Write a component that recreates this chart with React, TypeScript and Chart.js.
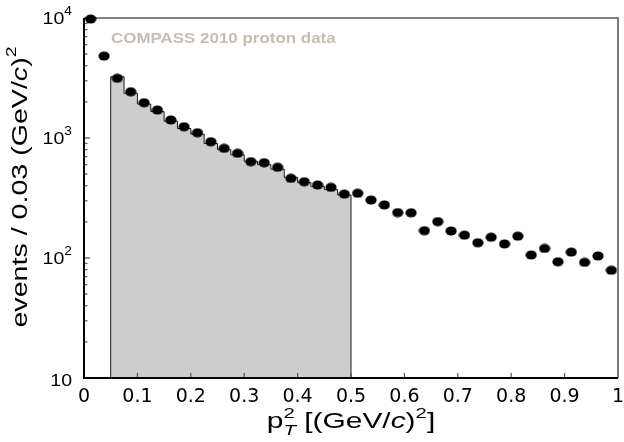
import React, { useEffect, useRef } from 'react';
import { Chart, registerables } from 'chart.js';

Chart.register(...registerables);

// p_T^2 bin centres (bin width 0.025)
const pt2Centers = [
  0.0125, 0.0375, 0.0625, 0.0875, 0.1125, 0.1375, 0.1625, 0.1875, 0.2125, 0.2375,
  0.2625, 0.2875, 0.3125, 0.3375, 0.3625, 0.3875, 0.4125, 0.4375, 0.4625, 0.4875,
  0.5125, 0.5375, 0.5625, 0.5875, 0.6125, 0.6375, 0.6625, 0.6875, 0.7125, 0.7375,
  0.7625, 0.7875, 0.8125, 0.8375, 0.8625, 0.8875, 0.9125, 0.9375, 0.9625, 0.9875,
];
// COMPASS 2010 proton data: events per bin
const dataCounts = [
  9800, 4820, 3145, 2430, 1968, 1711, 1413, 1241, 1107, 931,
  820, 746, 635, 622, 570, 461, 432, 406, 388, 341,
  346, 304, 277, 239, 238, 169, 201, 168, 155, 134,
  149, 131, 152, 106, 120, 93, 112, 92, 104, 79,
];
// shaded histogram (0.05 .. 0.5)
const histEdges = [
  0.05, 0.075, 0.1, 0.125, 0.15, 0.175, 0.2, 0.225, 0.25, 0.275,
  0.3, 0.325, 0.35, 0.375, 0.4, 0.425, 0.45, 0.475, 0.5,
];
const histCounts = [
  3240, 2360, 1920, 1660, 1380, 1200, 1080, 900, 800,
  725, 640, 600, 550, 470, 425, 395, 372, 335,
];
const xTickValues = [0, 0.1, 0.2, 0.3, 0.4, 0.5, 0.6, 0.7, 0.8, 0.9, 1];
const yDecades = [10, 100, 1000, 10000];
const yExponents = ['', '2', '3', '4'];
const yMinorFactors = [2, 3, 4, 5, 6, 7, 8, 9];

const SANS = '"Liberation Sans", Arial, Helvetica, sans-serif';

type Seg = { t: string; size: number; italic?: boolean; bold?: boolean; dy?: number; noAdvance?: boolean };

function fontOf(s: Seg) {
  return `${s.italic ? 'italic ' : ''}${s.bold ? 'bold ' : ''}${s.size}px ${SANS}`;
}

function drawSegs(
  ctx: CanvasRenderingContext2D,
  segs: Seg[],
  x: number,
  y: number,
  opts: { align: 'left' | 'center' | 'right'; rotate?: number; stretch?: number; color?: string }
) {
  ctx.save();
  let total = 0;
  for (const s of segs) {
    ctx.font = fontOf(s);
    if (!s.noAdvance) total += ctx.measureText(s.t).width;
  }
  ctx.translate(x, y);
  if (opts.rotate) ctx.rotate(opts.rotate);
  ctx.scale(opts.stretch ?? 1, 1);
  let cx = opts.align === 'left' ? 0 : opts.align === 'center' ? -total / 2 : -total;
  ctx.fillStyle = opts.color ?? '#000';
  ctx.textBaseline = 'alphabetic';
  ctx.textAlign = 'left';
  for (const s of segs) {
    ctx.font = fontOf(s);
    ctx.fillText(s.t, cx, s.dy ?? 0);
    if (!s.noAdvance) cx += ctx.measureText(s.t).width;
  }
  ctx.restore();
}

function makeDot() {
  const c = document.createElement('canvas');
  c.width = 12;
  c.height = 10;
  const g = c.getContext('2d')!;
  g.fillStyle = '#000';
  g.beginPath();
  g.ellipse(6, 5, 5.6, 4.6, 0, 0, Math.PI * 2);
  g.fill();
  return c;
}

const decorPlugin = {
  id: 'decor',
  afterDatasetDraw(chart: any, args: any) {
    if (args.index !== 1) return;
    const { ctx, chartArea: a, scales } = chart;
    const xs = scales.x;
    const ys = scales.y;
    ctx.save();
    // top & right frame (grey)
    ctx.strokeStyle = '#5a5a5a';
    ctx.lineWidth = 1.6;
    ctx.beginPath();
    ctx.moveTo(a.left, a.top);
    ctx.lineTo(a.right, a.top);
    ctx.lineTo(a.right, a.bottom);
    ctx.stroke();
    // x ticks
    ctx.strokeStyle = '#555';
    ctx.lineWidth = 1.2;
    for (const v of xTickValues) {
      if (v === 0 || v === 1) continue;
      const px = xs.getPixelForValue(v);
      ctx.beginPath();
      ctx.moveTo(px, a.bottom);
      ctx.lineTo(px, a.bottom - 5);
      ctx.stroke();
    }
    // y ticks
    for (let i = 0; i < yDecades.length; i++) {
      const d = yDecades[i];
      const py = ys.getPixelForValue(d);
      ctx.beginPath();
      ctx.moveTo(a.left, py);
      ctx.lineTo(a.left + 6, py);
      ctx.stroke();
      if (i < yDecades.length - 1) {
        for (const f of yMinorFactors) {
          const pm = ys.getPixelForValue(d * f);
          ctx.beginPath();
          ctx.moveTo(a.left, pm);
          ctx.lineTo(a.left + 3.5, pm);
          ctx.stroke();
        }
      }
    }
    // left & bottom axes (black)
    ctx.strokeStyle = '#000';
    ctx.lineWidth = 2;
    ctx.beginPath();
    ctx.moveTo(a.left, a.top);
    ctx.lineTo(a.left, a.bottom);
    ctx.lineTo(a.right, a.bottom);
    ctx.stroke();
    ctx.restore();

    // data label
    drawSegs(ctx, [{ t: 'COMPASS 2010 proton data', size: 14, bold: true }], 111, 43, {
      align: 'left',
      stretch: 1.21,
      color: '#c8bdb3',
    });
  },
  afterDraw(chart: any) {
    const { ctx, chartArea: a, scales } = chart;
    const ys = scales.y;
    // y tick labels
    for (let i = 0; i < yDecades.length; i++) {
      const py = ys.getPixelForValue(yDecades[i]);
      const e = yExponents[i];
      if (e) {
        drawSegs(
          ctx,
          [
            { t: '10', size: 17 },
            { t: e, size: 12, dy: -9 },
          ],
          a.left - 12,
          py + 6,
          { align: 'right', stretch: 1.15 }
        );
      } else {
        drawSegs(ctx, [{ t: '10', size: 17 }], a.left - 12, py + 8, { align: 'right', stretch: 1.15 });
      }
    }
    // y title
    drawSegs(
      ctx,
      [
        { t: 'events / 0.03 (GeV/', size: 22 },
        { t: 'c', size: 22, italic: true },
        { t: ')', size: 22 },
        { t: '2', size: 15, dy: -11 },
      ],
      27,
      (a.top + a.bottom) / 2 - 11,
      { align: 'center', rotate: -Math.PI / 2, stretch: 1.3 }
    );
    // x title
    drawSegs(
      ctx,
      [
        { t: 'p', size: 22 },
        { t: '2', size: 15, dy: -10, noAdvance: true },
        { t: 'T', size: 15, italic: true, dy: 7 },
        { t: ' [(GeV/', size: 22 },
        { t: 'c', size: 22, italic: true },
        { t: ')', size: 22 },
        { t: '2', size: 15, dy: -10 },
        { t: ']', size: 22 },
      ],
      (a.left + a.right) / 2,
      428,
      { align: 'center', stretch: 1.36 }
    );
  },
};

export default function App() {
  const ref = useRef<HTMLCanvasElement | null>(null);

  useEffect(() => {
    if (!ref.current) return;
    const dot = makeDot();
    const histData: { x: number; y: number }[] = [{ x: histEdges[0], y: yDecades[0] }];
    for (let i = 0; i < histCounts.length; i++) histData.push({ x: histEdges[i], y: histCounts[i] });
    histData.push({ x: histEdges[histEdges.length - 1], y: histCounts[histCounts.length - 1] });
    histData.push({ x: histEdges[histEdges.length - 1], y: yDecades[0] });

    const chart = new Chart(ref.current, {
      type: 'line',
      data: {
        datasets: [
          {
            label: 'COMPASS 2010 proton data',
            data: pt2Centers.map((x, i) => ({ x, y: dataCounts[i] })),
            showLine: false,
            pointStyle: dot as any,
            pointRadius: 5,
            clip: false as any,
          },
          {
            label: 'histogram',
            data: histData,
            stepped: 'before',
            borderColor: '#1a1a1a',
            borderWidth: 1,
            backgroundColor: '#cdcdcd',
            fill: 'start',
            pointRadius: 0,
          },
        ],
      },
      options: {
        animation: false,
        responsive: false,
        maintainAspectRatio: false,
        layout: { padding: { top: 18, right: 6, bottom: 0, left: 0 } },
        plugins: { legend: { display: false }, tooltip: { enabled: false } },
        scales: {
          x: {
            type: 'linear',
            min: 0,
            max: 1,
            grid: { display: false, drawTicks: false },
            border: { display: false },
            afterBuildTicks: (s: any) => {
              s.ticks = xTickValues.map((v) => ({ value: v }));
            },
            afterFit: (s: any) => {
              s.height = 64;
              s.paddingLeft = 0;
              s.paddingRight = 0;
            },
            ticks: {
              autoSkip: false,
              maxRotation: 0,
              padding: 8,
              color: '#000',
              font: { family: '"DejaVu Sans", sans-serif', size: 19 },
              callback: (v: any) => {
                const n = Number(v);
                if (n === 0) return '0';
                if (n === 1) return '1';
                return n.toFixed(1);
              },
            },
          },
          y: {
            type: 'logarithmic',
            min: 10,
            max: 10000,
            grid: { display: false, drawTicks: false },
            border: { display: false },
            afterBuildTicks: (s: any) => {
              s.ticks = yDecades.map((v) => ({ value: v, major: true }));
            },
            afterFit: (s: any) => {
              s.width = 84;
              s.paddingTop = 0;
              s.paddingBottom = 0;
            },
            ticks: { display: false },
          },
        },
      },
      plugins: [decorPlugin],
    });
    return () => chart.destroy();
  }, []);

  return (
    <div style={{ position: 'fixed', left: 0, top: 0, width: 624, height: 442, background: '#fff' }}>
      <canvas ref={ref} width={624} height={442} style={{ display: 'block', width: 624, height: 442 }} />
    </div>
  );
}
